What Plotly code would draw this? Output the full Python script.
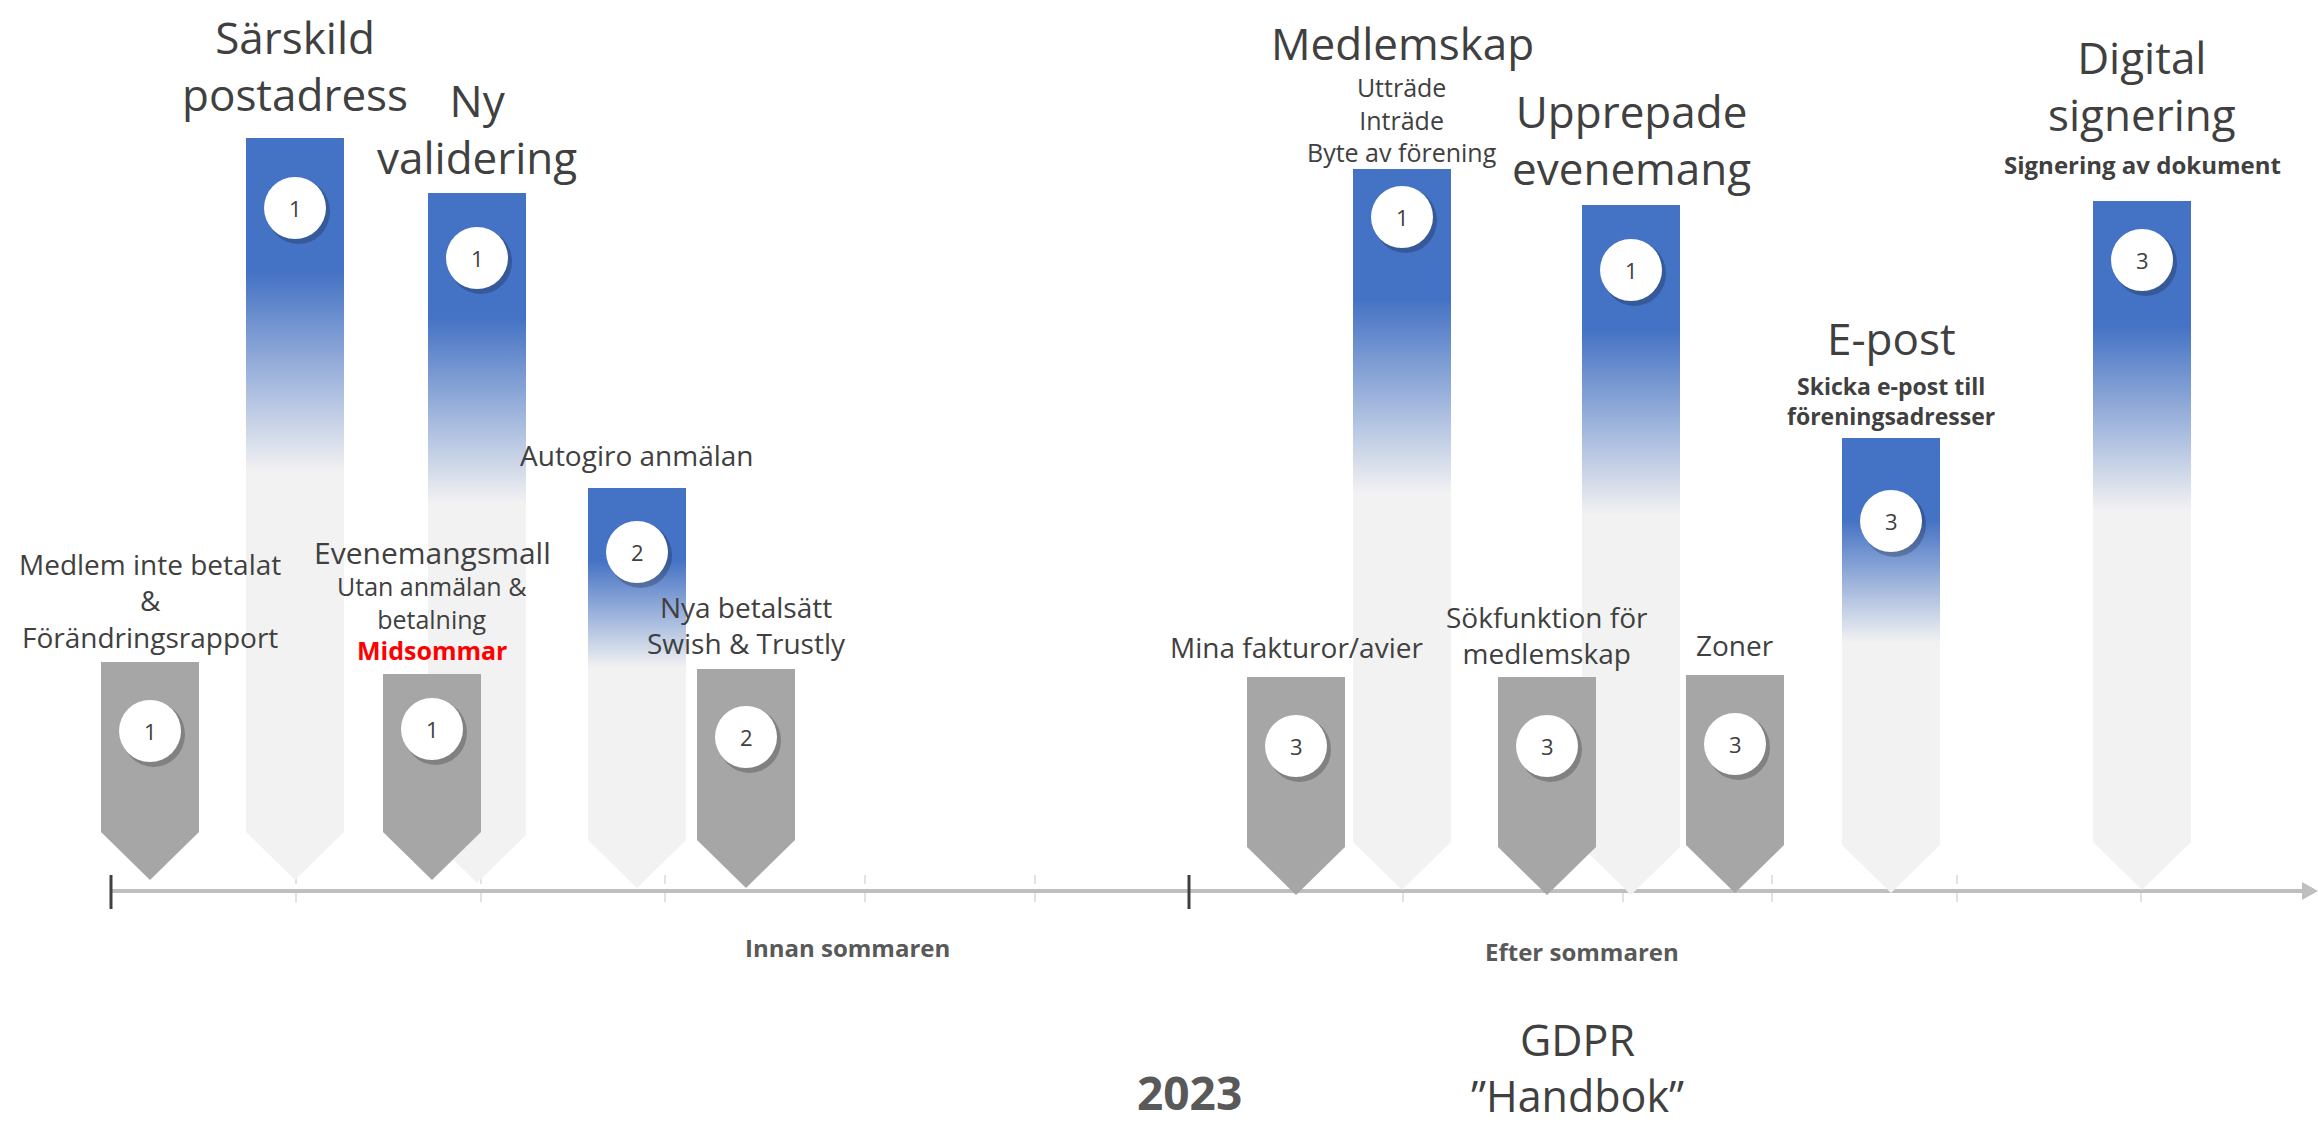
import plotly.graph_objects as go

# ---------------- data ----------------
items = ["Medlem inte betalat", "Särskild postadress", "Evenemangsmall", "Ny validering",
         "Autogiro anmälan", "Nya betalsätt", "Mina fakturor/avier", "Medlemskap",
         "Sökfunktion för medlemskap", "Upprepade evenemang", "Zoner", "E-post",
         "Digital signering"]
kind = ["grå", "blå", "grå", "blå", "blå", "grå", "grå", "blå", "grå", "blå", "grå", "blå", "blå"]
pos = [150, 295, 432, 477, 637, 746, 1296, 1402, 1547, 1631, 1735, 1891, 2142]
top = [229, 753, 217, 698, 403, 222, 214, 722, 214, 686, 216, 453, 690]
tip = [11, 11, 11, 8, 3, 3, -4, 1, -4, -4, -2, -2, 1]
badge = [1, 1, 1, 1, 2, 2, 3, 1, 3, 1, 3, 3, 3]
badge_h = [160, 683, 162, 633, 339, 154, 145, 674, 145, 621, 147, 370, 631]

label_text = [
    "Medlem inte betalat<br>&<br>Förändringsrapport",
    "Särskild<br>postadress",
    "Evenemangsmall",
    "Utan anmälan &<br>betalning",
    "Midsommar",
    "Ny<br>validering",
    "Autogiro anmälan",
    "Nya betalsätt<br>Swish & Trustly",
    "Mina fakturor/avier",
    "Medlemskap",
    "Utträde<br>Inträde<br>Byte av förening",
    "Sökfunktion för<br>medlemskap",
    "Upprepade<br>evenemang",
    "Zoner",
    "E-post",
    "Skicka e-post till<br>föreningsadresser",
    "Digital<br>signering",
    "Signering av dokument",
]
label_item = [0, 1, 2, 2, 2, 3, 4, 5, 6, 7, 7, 8, 9, 10, 11, 11, 12, 12]
label_h = [291, 826, 339, 289, 241, 763, 436, 266, 244, 848, 772, 256, 752, 246, 553, 490, 806, 727]
label_style = ["mid", "title", "mid30", "sub", "red", "title", "mid", "mid", "mid", "title",
               "small", "mid", "title", "mid", "title", "bold", "title", "bold24"]

periods = ["Innan sommaren", "Efter sommaren"]
period_ticks = [111, 1189]
grid_x = [296, 481, 665, 865, 1035, 1403, 1623, 1772, 1957, 2141]
year_text = "2023"
gdpr_text = "GDPR<br>”Handbok”"

# ---------------- styling ----------------
W_FIG, H_FIG = 2318, 1128
AXIS_PIX = 891           # pixel row of the timeline
W = 98                   # arrow width
PH = 48                  # arrow point height
R = 31                   # badge radius
TXT = "#404040"
FONT = "Open Sans"
styles = {
    "title": dict(size=44, color=TXT, family=FONT),
    "mid": dict(size=28, color=TXT, family=FONT),
    "mid30": dict(size=30, color=TXT, family=FONT),
    "sub": dict(size=25, color=TXT, family=FONT),
    "red": dict(size=25, color="#FF0000", family=FONT, weight="bold"),
    "small": dict(size=25, color=TXT, family=FONT),
    "bold": dict(size=23, color=TXT, family=FONT, weight="bold"),
    "bold24": dict(size=24, color=TXT, family=FONT, weight="bold"),
}

fig = go.Figure()


def chevron(i):
    x = pos[i]
    xs = [x - W / 2, x + W / 2, x + W / 2, x, x - W / 2, x - W / 2]
    ys = [top[i], top[i], tip[i] + PH, tip[i], tip[i] + PH, top[i]]
    return xs, ys


# light/blue arrows first (behind)
for i in range(len(items)):
    if kind[i] != "blå":
        continue
    xs, ys = chevron(i)
    fig.add_trace(go.Scatter(
        x=xs, y=ys, mode="lines", line=dict(width=0, color="rgba(0,0,0,0)"),
        fill="toself",
        fillgradient=dict(type="vertical",
                          colorscale=[[0, "#F2F2F2"], [0.55, "#F2F2F2"],
                                      [0.82, "#4472C4"], [1, "#4472C4"]],
                          start=tip[i], stop=top[i]),
        hoverinfo="skip", showlegend=False, name=items[i]))

# gray arrows in front
for i in range(len(items)):
    if kind[i] != "grå":
        continue
    xs, ys = chevron(i)
    fig.add_trace(go.Scatter(
        x=xs, y=ys, mode="lines", line=dict(width=0, color="rgba(0,0,0,0)"),
        fill="toself", fillcolor="#A6A6A6",
        hoverinfo="skip", showlegend=False, name=items[i]))

shapes = []
# timeline axis with arrow head
shapes.append(dict(type="line", x0=period_ticks[0], x1=W_FIG - 14, y0=0, y1=0,
                   line=dict(color="#BFBFBF", width=4), layer="below"))
shapes.append(dict(type="path", path=f"M {W_FIG-16},9 L {W_FIG},0 L {W_FIG-16},-9 Z",
                   fillcolor="#BFBFBF", line=dict(width=0), layer="below"))
for gx in grid_x:
    shapes.append(dict(type="line", x0=gx, x1=gx, y0=16, y1=-18,
                       line=dict(color="#D9D9D9", width=1.5, dash="dash"), layer="below"))
for tx in period_ticks:
    shapes.append(dict(type="line", x0=tx, x1=tx, y0=16, y1=-18,
                       line=dict(color="#404040", width=3), layer="above"))

# badges with soft shadow
for i in range(len(items)):
    cx, cy = pos[i], badge_h[i]
    shapes.append(dict(type="circle", x0=cx - R + 3, x1=cx + R + 4, y0=cy - R - 5, y1=cy + R - 2,
                       fillcolor="rgba(0,0,0,0.22)", line=dict(width=0), layer="above"))
    shapes.append(dict(type="circle", x0=cx - R, x1=cx + R, y0=cy - R, y1=cy + R,
                       fillcolor="white", line=dict(width=0), layer="above"))

annotations = []
for i in range(len(items)):
    annotations.append(dict(x=pos[i], y=badge_h[i], text=str(badge[i]), showarrow=False,
                            xanchor="center", yanchor="middle",
                            font=dict(size=22, color=TXT, family=FONT)))

for t, it, h, st in zip(label_text, label_item, label_h, label_style):
    annotations.append(dict(x=pos[it], y=h, text=t, showarrow=False, xanchor="center",
                            yanchor="middle", align="center", font=styles[st]))

annotations.append(dict(x=847, y=-56, text=periods[0], showarrow=False,
                        font=dict(size=24, color="#595959", family=FONT, weight="bold")))
annotations.append(dict(x=1582, y=-60, text=periods[1], showarrow=False,
                        font=dict(size=24, color="#595959", family=FONT, weight="bold")))
annotations.append(dict(x=1189, y=-201, text=year_text, showarrow=False,
                        font=dict(size=46, color="#595959", family=FONT, weight="bold")))
annotations.append(dict(x=1577, y=-176, text=gdpr_text, showarrow=False,
                        font=dict(size=43, color=TXT, family=FONT)))

fig.update_layout(
    width=W_FIG, height=H_FIG,
    margin=dict(l=0, r=0, t=0, b=0),
    paper_bgcolor="white", plot_bgcolor="white",
    xaxis=dict(range=[0, W_FIG], visible=False, fixedrange=True),
    yaxis=dict(range=[AXIS_PIX - H_FIG, AXIS_PIX], visible=False, fixedrange=True),
    shapes=shapes, annotations=annotations, showlegend=False,
)

fig.write_html("out.html", include_plotlyjs=True, config={"displayModeBar": False},
               post_script="document.body.style.margin='0';document.body.style.overflow='hidden';")
